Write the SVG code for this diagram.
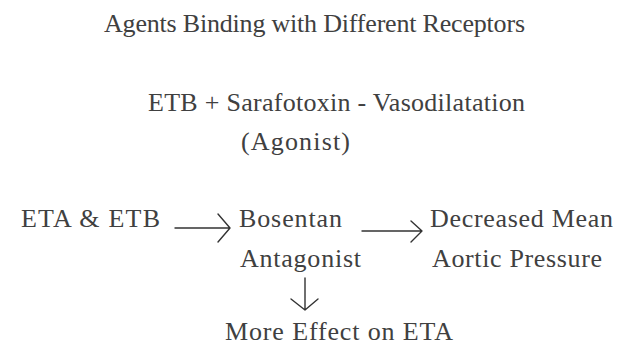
<svg xmlns="http://www.w3.org/2000/svg" width="626" height="349" viewBox="0 0 626 349">
<style>
text{font-family:"Liberation Serif","Times New Roman",serif;font-size:26px;fill:#404040}
.c{fill:none;stroke:#333;stroke-width:1.4;stroke-linecap:round;stroke-linejoin:round}
</style>
<rect width="626" height="349" fill="#fff"/>
<g id="title"><text x="104" y="32" textLength="421" lengthAdjust="spacing">Agents Binding with Different Receptors</text></g>
<g id="etb-sarafotoxin"><text x="148" y="111" textLength="377" lengthAdjust="spacing">ETB + Sarafotoxin - Vasodilatation</text>
<text x="241" y="150" textLength="109" lengthAdjust="spacing">(Agonist)</text></g>
<g id="eta-etb"><text x="21" y="227" textLength="139" lengthAdjust="spacing">ETA &amp; ETB</text></g>
<g id="bosentan"><text x="239" y="227" textLength="103" lengthAdjust="spacing">Bosentan</text>
<text x="240" y="267" textLength="121" lengthAdjust="spacing">Antagonist</text></g>
<g id="decreased"><text x="430" y="227" textLength="183" lengthAdjust="spacing">Decreased Mean</text>
<text x="432" y="267" textLength="170" lengthAdjust="spacing">Aortic Pressure</text></g>
<g id="more-effect"><text x="225" y="340" textLength="228" lengthAdjust="spacing">More Effect on ETA</text></g>
<g id="connectors">
<path class="c" d="M175 228H230M218 214L230 228L218 242"/>
<path class="c" d="M362 231H422M411 221L422 231L411 242"/>
<path class="c" d="M305 278V310M291 299L305 310L318 299"/>
</g>
</svg>
